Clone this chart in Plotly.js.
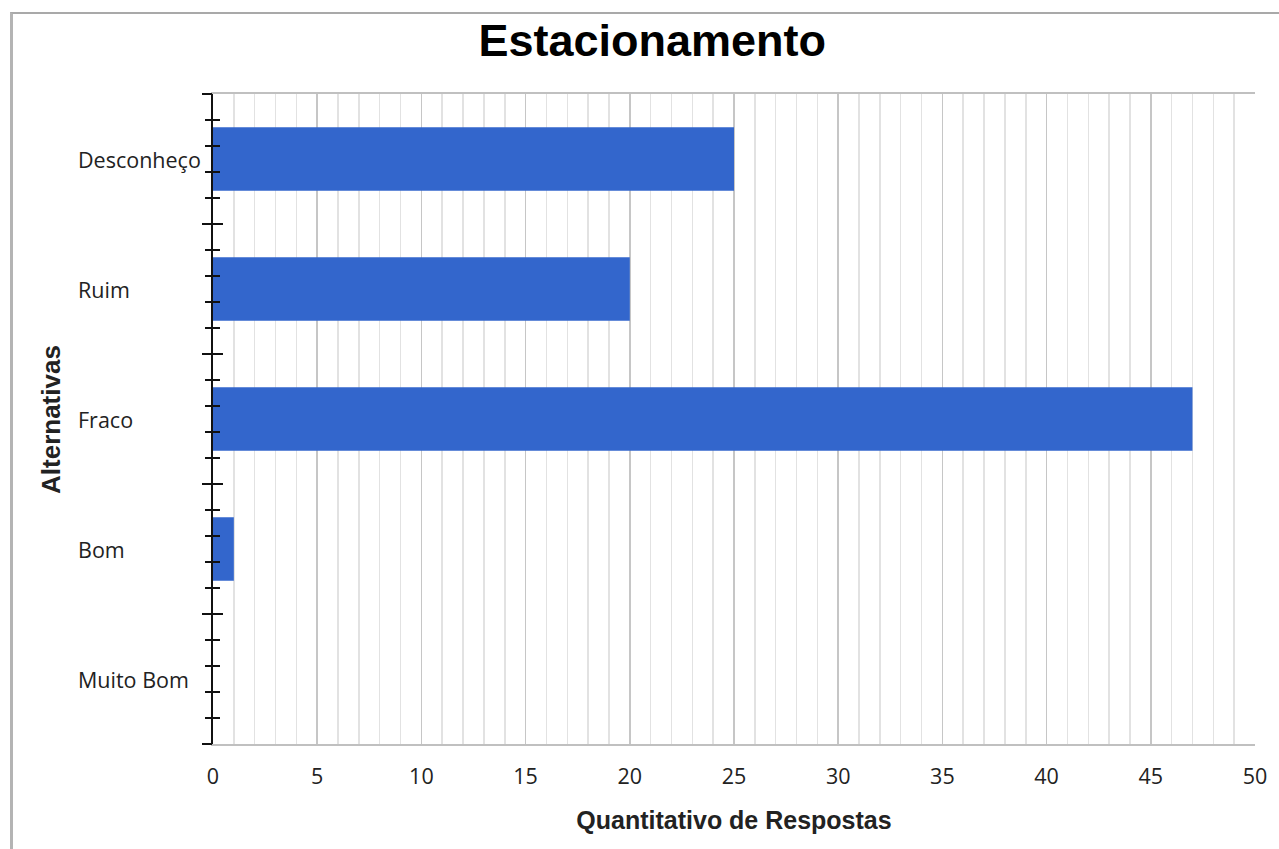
<!DOCTYPE html>
<html>
<head>
<meta charset="utf-8">
<script src="https://cdn.plot.ly/plotly-3.0.1.min.js"></script>
<style>
html,body{margin:0;padding:0;background:#fff;}
#chart{position:absolute;left:0;top:0;width:1279px;height:849px;}
#frame{position:absolute;left:10px;top:12px;right:0;bottom:0;border-top:2px solid #a9a9a9;border-left:3px solid #b4b4b4;pointer-events:none;}
</style>
</head>
<body>
<div id="chart"></div>
<div id="frame"></div>
<script>
// Data (bottom to top in plot order)
const categories = ["Muito Bom", "Bom", "Fraco", "Ruim", "Desconheço"];
const values = [0, 1, 47, 20, 25];
const xTickValues = [0, 5, 10, 15, 20, 25, 30, 35, 40, 45, 50];
const chartTitle = "Estacionamento";
const xTitle = "Quantitativo de Respostas";
const yTitle = "Alternativas";

const positions = categories.map((c, i) => i);
const boundaries = [];
for (let i = 0; i <= categories.length; i++) boundaries.push(i - 0.5);

const tickFont = {family: "Open Sans", size: 21.5, color: "#222"};
const boldFont = {family: "Liberation Sans, Arial, sans-serif", size: 25, color: "#222"};

const traces = [
  {
    type: "bar",
    orientation: "h",
    x: values,
    y: categories,
    marker: {color: "#3366CC", line: {width: 0}},
    width: 0.49,
    hoverinfo: "x+y"
  },
  // invisible helpers so the two tick axes (outside / inside) are drawn
  {type: "scatter", mode: "none", x: values, y: positions, yaxis: "y2", hoverinfo: "skip", showlegend: false},
  {type: "scatter", mode: "none", x: values, y: positions, yaxis: "y3", hoverinfo: "skip", showlegend: false}
];

const tickAxisBase = {
  overlaying: "y",
  anchor: "x",
  side: "left",
  range: [-0.5, categories.length - 0.5],
  tickmode: "array",
  tickvals: boundaries,
  showticklabels: false,
  showgrid: false,
  zeroline: false,
  showline: false,
  tickwidth: 2,
  tickcolor: "#111",
  ticklen: 10,
  fixedrange: true
};

const annotations = categories.map(c => ({
  text: c,
  xref: "paper", yref: "y",
  x: -0.1315, y: c,
  xanchor: "left", yanchor: "middle",
  showarrow: false,
  font: tickFont
}));
annotations.push({
  text: "<b>" + yTitle + "</b>",
  xref: "paper", yref: "paper",
  x: -0.1555, y: 0.5,
  xanchor: "center", yanchor: "middle",
  textangle: -90,
  showarrow: false,
  font: {family: boldFont.family, size: 26, color: "#222"}
});

const layout = {
  width: 1279, height: 849,
  margin: {l: 213, r: 24, t: 94, b: 105},
  paper_bgcolor: "#fff",
  plot_bgcolor: "#fff",
  showlegend: false,
  title: {
    text: "<b>" + chartTitle + "</b>",
    font: {family: "Liberation Sans, Arial, sans-serif", size: 45, color: "#000"},
    xref: "container", x: 0.51, xanchor: "center",
    yref: "container", y: 0.953, yanchor: "middle"
  },
  xaxis: {
    range: [0, 50],
    tickmode: "array",
    tickvals: xTickValues,
    ticks: "",
    ticklabelstandoff: 12,
    tickfont: tickFont,
    showgrid: true,
    gridcolor: "#c6c6c6",
    gridwidth: 1.5,
    minor: {dtick: 1, tick0: 0, showgrid: true, gridcolor: "#e2e2e2", gridwidth: 1.5},
    showline: true,
    linecolor: "#c0c0c0",
    linewidth: 2,
    mirror: true,
    zeroline: false,
    fixedrange: true,
    title: {text: "<b>" + xTitle + "</b>", font: boldFont, standoff: 23}
  },
  yaxis: {
    type: "category",
    categoryorder: "array",
    categoryarray: categories,
    range: [-0.5, categories.length - 0.5],
    showticklabels: false,
    ticks: "",
    showgrid: false,
    zeroline: false,
    showline: true,
    linecolor: "#111",
    linewidth: 2,
    fixedrange: true
  },
  yaxis2: Object.assign({}, tickAxisBase, {
    ticks: "outside",
    minor: {tick0: -0.5, dtick: 0.2, ticks: "outside", ticklen: 7, tickwidth: 2, tickcolor: "#111"}
  }),
  yaxis3: Object.assign({}, tickAxisBase, {
    ticks: "inside",
    minor: {tick0: -0.5, dtick: 0.2, ticks: "inside", ticklen: 7, tickwidth: 2, tickcolor: "#111"}
  }),
  annotations: annotations
};

Plotly.newPlot("chart", traces, layout, {displayModeBar: false, staticPlot: true});
</script>
</body>
</html>
